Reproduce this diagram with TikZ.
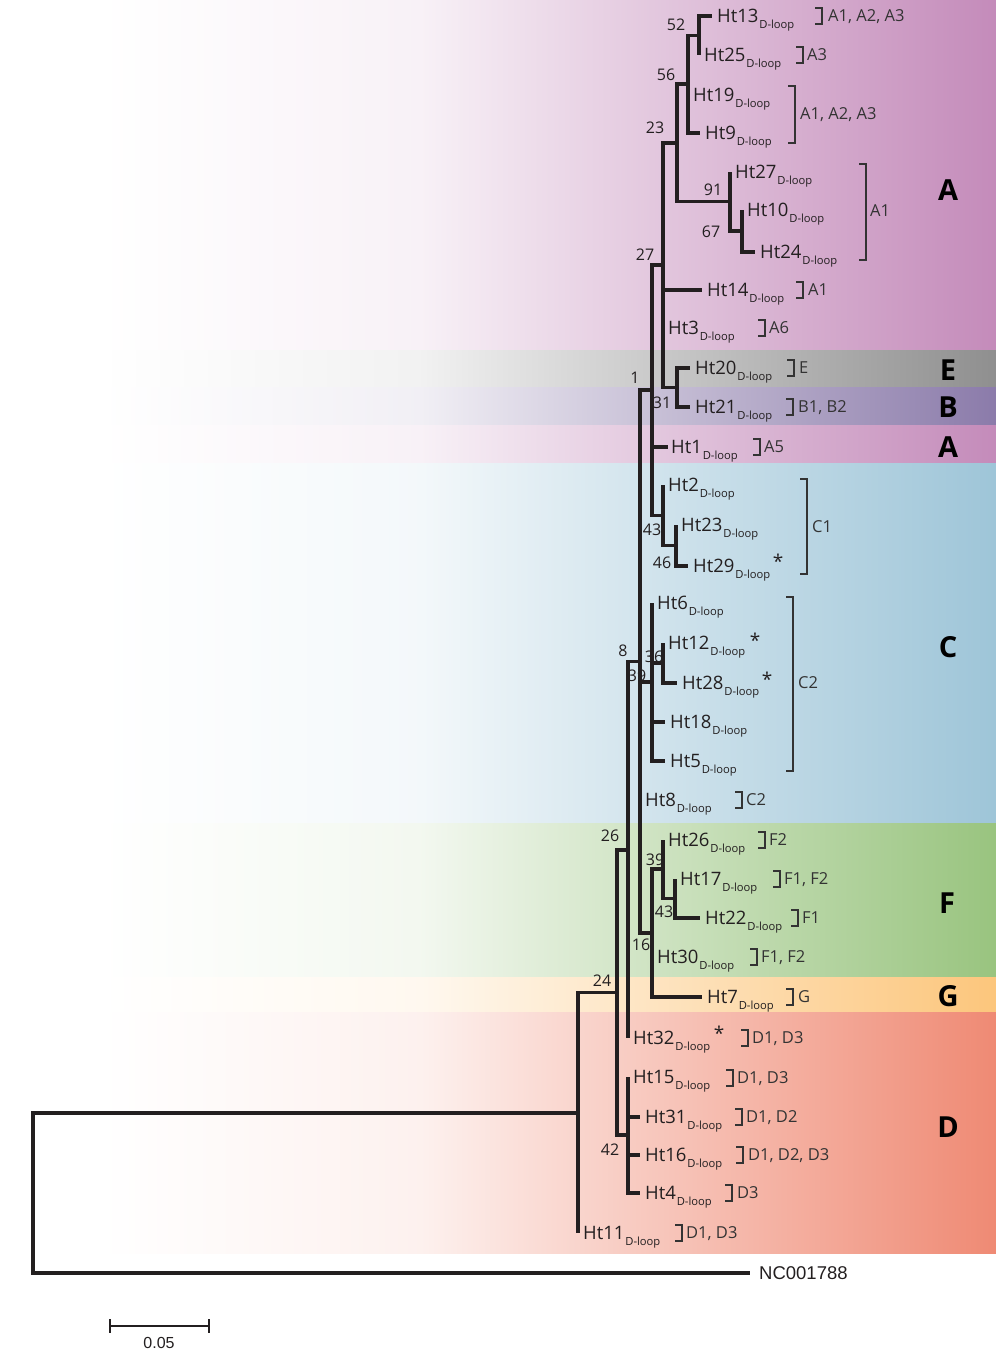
\documentclass[tikz,border=0pt]{standalone}
\usepackage{fontspec}
\setmainfont{Open Sans}
\newfontfamily\arialf{Liberation Sans}
\usetikzlibrary{calc}
\definecolor{cA}{HTML}{C48BBA}
\definecolor{cE}{HTML}{8F8F8F}
\definecolor{cB}{HTML}{8B7BAA}
\definecolor{cC}{HTML}{9EC5D8}
\definecolor{cF}{HTML}{99C47F}
\definecolor{cG}{HTML}{FCC67C}
\definecolor{cD}{HTML}{EF8A74}
\definecolor{ink}{HTML}{231F20}
\definecolor{ink2}{HTML}{333333}
\newcommand{\dl}{\kern0.8pt\raisebox{-5.5pt}{\fontsize{11.2}{10}\selectfont D-loop}}
\newcommand{\brk}[3]{\draw[brkline] (#1-7,#2) -- (#1,#2) -- (#1,#3) -- (#1-7,#3);}
\newcommand{\band}[3]{%
  \shade[left color=white, right color=#1!12!white] (100,#2) rectangle (420,#3);
  \shade[left color=#1!12!white, right color=#1] (420,#2) rectangle (996,#3);}
\begin{document}
\begin{tikzpicture}[x=1pt,y=-1pt,
  tree/.style={line width=3.6pt, draw=ink, line join=miter},
  leaf/.style={anchor=base west, inner sep=0pt, font=\fontsize{18.5}{18}\selectfont, text=ink, xshift=5pt, yshift=-6.5pt},
  grp/.style={anchor=base west, inner sep=0pt, font=\fontsize{16.5}{16}\selectfont, text=ink2, yshift=-5.8pt},
  boot/.style={anchor=center, inner sep=0pt, font=\fontsize{16}{16}\selectfont, text=ink},
  reg/.style={anchor=center, inner sep=0pt, font=\fontsize{29}{29}\selectfont\bfseries, text=black},
  ast/.style={anchor=base, inner sep=0pt, font=\fontsize{19}{19}\selectfont, text=ink, yshift=-10pt},
  brkline/.style={line width=1.4pt, draw=ink2}
]
\useasboundingbox (0,0) rectangle (996,1361);
\fill[white] (0,0) rectangle (996,1361);
% ---------- coloured bands ----------
\band{cA}{0}{350}
\band{cE}{350}{387}
\band{cB}{387}{425}
\band{cA}{425}{463}
\band{cC}{463}{823}
\band{cF}{823}{977}
\band{cG}{977}{1012}
\band{cD}{1012}{1253}
% ---------- leaves ----------
\coordinate (Ht13) at (712,16);
\coordinate (Ht25) at (699,55);
\coordinate (Ht19) at (688,95);
\coordinate (Ht9) at (700,133);
\coordinate (Ht27) at (730,172);
\coordinate (Ht10) at (742,210);
\coordinate (Ht24) at (755,252);
\coordinate (Ht14) at (702,290);
\coordinate (Ht3) at (663,328);
\coordinate (Ht20) at (690,368);
\coordinate (Ht21) at (690,407);
\coordinate (Ht1) at (668,447);
\coordinate (Ht2) at (663,485);
\coordinate (Ht23) at (676,525);
\coordinate (Ht29) at (688,566);
\coordinate (Ht6) at (652,603);
\coordinate (Ht12) at (663,643);
\coordinate (Ht28) at (677,683);
\coordinate (Ht18) at (665,722);
\coordinate (Ht5) at (665,761);
\coordinate (Ht8) at (640,800);
\coordinate (Ht26) at (663,840);
\coordinate (Ht17) at (675,879);
\coordinate (Ht22) at (700,918);
\coordinate (Ht30) at (652,957);
\coordinate (Ht7) at (702,997);
\coordinate (Ht32) at (628,1038);
\coordinate (Ht15) at (628,1077);
\coordinate (Ht31) at (640,1117);
\coordinate (Ht16) at (640,1155);
\coordinate (Ht4) at (640,1193);
\coordinate (Ht11) at (578,1233);
\coordinate (NC) at (750,1273);
% ---------- internal nodes ----------
\coordinate (n52) at (699,35.5);
\coordinate (n56) at (688,84);
\coordinate (n67) at (742,231);
\coordinate (n91) at (730,201.5);
\coordinate (n23) at (677,143);
\coordinate (n31) at (677,387.5);
\coordinate (n27) at (663,265);
\coordinate (n46) at (676,545.5);
\coordinate (n43c) at (663,515.5);
\coordinate (n1) at (652,390);
\coordinate (n36) at (663,663);
\coordinate (n39c) at (652,682);
\coordinate (n43f) at (675,898.5);
\coordinate (n39f) at (663,869);
\coordinate (n16) at (652,933);
\coordinate (n8) at (640,661.5);
\coordinate (n26) at (628,850);
\coordinate (n42) at (628,1135);
\coordinate (n24) at (617,992.5);
\coordinate (n0) at (578,1113);
\coordinate (root) at (33,1193);
% ---------- branches ----------
\draw[tree] (n52) |- (Ht13); \draw[tree] (n52) |- (Ht25);
\draw[tree] (n56) |- (n52); \draw[tree] (n56) |- (Ht19); \draw[tree] (n56) |- (Ht9);
\draw[tree] (n67) |- (Ht10); \draw[tree] (n67) |- (Ht24);
\draw[tree] (n91) |- (Ht27); \draw[tree] (n91) |- (n67);
\draw[tree] (n23) |- (n56); \draw[tree] (n23) |- (n91);
\draw[tree] (n31) |- (Ht20); \draw[tree] (n31) |- (Ht21);
\draw[tree] (n27) |- (n23); \draw[tree] (n27) |- (Ht14); \draw[tree] (n27) |- (Ht3); \draw[tree] (n27) |- (n31);
\draw[tree] (n46) |- (Ht23); \draw[tree] (n46) |- (Ht29);
\draw[tree] (n43c) |- (Ht2); \draw[tree] (n43c) |- (n46);
\draw[tree] (n1) |- (n27); \draw[tree] (n1) |- (Ht1); \draw[tree] (n1) |- (n43c);
\draw[tree] (n36) |- (Ht12); \draw[tree] (n36) |- (Ht28);
\draw[tree] (n39c) |- (Ht6); \draw[tree] (n39c) |- (n36); \draw[tree] (n39c) |- (Ht18); \draw[tree] (n39c) |- (Ht5);
\draw[tree] (n43f) |- (Ht17); \draw[tree] (n43f) |- (Ht22);
\draw[tree] (n39f) |- (Ht26); \draw[tree] (n39f) |- (n43f);
\draw[tree] (n16) |- (n39f); \draw[tree] (n16) |- (Ht30); \draw[tree] (n16) |- (Ht7);
\draw[tree] (n8) |- (n1); \draw[tree] (n8) |- (n39c); \draw[tree] (n8) |- (Ht8); \draw[tree] (n8) |- (n16);
\draw[tree] (n26) |- (n8); \draw[tree] (n26) |- (Ht32);
\draw[tree] (n42) |- (Ht15); \draw[tree] (n42) |- (Ht31); \draw[tree] (n42) |- (Ht16); \draw[tree] (n42) |- (Ht4);
\draw[tree] (n24) |- (n26); \draw[tree] (n24) |- (n42);
\draw[tree] (n0) |- (n24); \draw[tree] (n0) |- (Ht11);
\draw[tree] (root) |- (n0); \draw[tree] (root) |- (NC);
% ---------- leaf labels ----------
\node[leaf] (tHt13) at (Ht13) {Ht13\dl};
\node[leaf] (tHt25) at (Ht25) {Ht25\dl};
\node[leaf] (tHt19) at (Ht19) {Ht19\dl};
\node[leaf] (tHt9) at (Ht9) {Ht9\dl};
\node[leaf] (tHt27) at (Ht27) {Ht27\dl};
\node[leaf] (tHt10) at (Ht10) {Ht10\dl};
\node[leaf] (tHt24) at (Ht24) {Ht24\dl};
\node[leaf] (tHt14) at (Ht14) {Ht14\dl};
\node[leaf] (tHt3) at (Ht3) {Ht3\dl};
\node[leaf] (tHt20) at (Ht20) {Ht20\dl};
\node[leaf] (tHt21) at (Ht21) {Ht21\dl};
\node[leaf, xshift=-2pt] (tHt1) at (Ht1) {Ht1\dl};
\node[leaf] (tHt2) at (Ht2) {Ht2\dl};
\node[leaf] (tHt23) at (Ht23) {Ht23\dl};
\node[leaf] (tHt29) at (Ht29) {Ht29\dl};
\node[leaf] (tHt6) at (Ht6) {Ht6\dl};
\node[leaf] (tHt12) at (Ht12) {Ht12\dl};
\node[leaf] (tHt28) at (Ht28) {Ht28\dl};
\node[leaf] (tHt18) at (Ht18) {Ht18\dl};
\node[leaf] (tHt5) at (Ht5) {Ht5\dl};
\node[leaf] (tHt8) at (Ht8) {Ht8\dl};
\node[leaf] (tHt26) at (Ht26) {Ht26\dl};
\node[leaf] (tHt17) at (Ht17) {Ht17\dl};
\node[leaf] (tHt22) at (Ht22) {Ht22\dl};
\node[leaf] (tHt30) at (Ht30) {Ht30\dl};
\node[leaf] (tHt7) at (Ht7) {Ht7\dl};
\node[leaf] (tHt32) at (Ht32) {Ht32\dl};
\node[leaf] (tHt15) at (Ht15) {Ht15\dl};
\node[leaf] (tHt31) at (Ht31) {Ht31\dl};
\node[leaf] (tHt16) at (Ht16) {Ht16\dl};
\node[leaf] (tHt4) at (Ht4) {Ht4\dl};
\node[leaf] (tHt11) at (Ht11) {Ht11\dl};
\node[leaf, font=\arialf\fontsize{18.5}{18}\selectfont, xshift=4pt] (tNC) at (NC) {NC001788};
% ---------- asterisks ----------
\node[ast] (s29) at (778,558) {*};
\node[ast] (s12) at (755,637) {*};
\node[ast] (s28) at (767,676) {*};
\node[ast] (s32) at (719,1030) {*};
% ---------- bootstrap values ----------
\node[boot] (b52) at (676,25) {52};
\node[boot] (b56) at (666,75) {56};
\node[boot] (b23) at (655,128) {23};
\node[boot] (b91) at (713,190) {91};
\node[boot] (b67) at (711,232) {67};
\node[boot] (b27) at (645,255) {27};
\node[boot] (b1) at (635,378) {1};
\node[boot] (b31) at (662,403) {31};
\node[boot] (b43c) at (652,530) {43};
\node[boot] (b46) at (662,563) {46};
\node[boot] (b8) at (623,651) {8};
\node[boot] (b36) at (654,657) {36};
\node[boot] (b39c) at (637,676) {39};
\node[boot] (b26) at (610,836) {26};
\node[boot] (b39f) at (655,860) {39};
\node[boot] (b43f) at (664,912) {43};
\node[boot] (b16) at (641,945) {16};
\node[boot] (b24) at (602,981) {24};
\node[boot] (b42) at (610,1150) {42};
% ---------- brackets and group labels ----------
\brk{822}{8}{24} \node[grp] (g13) at (828,16) {A1, A2, A3};
\brk{803}{47}{63} \node[grp] (g25) at (807,55) {A3};
\brk{795}{86}{143} \node[grp] (g19) at (800,114) {A1, A2, A3};
\brk{866}{164}{260} \node[grp] (g27) at (870,211) {A1};
\brk{803}{282}{298} \node[grp] (g14) at (808,290) {A1};
\brk{765}{320}{336} \node[grp] (g3) at (769,328) {A6};
\brk{794}{360}{376} \node[grp] (g20) at (799,368) {E};
\brk{793}{399}{415} \node[grp] (g21) at (798,407) {B1, B2};
\brk{760}{439}{455} \node[grp] (g1) at (764,447) {A5};
\brk{807}{479}{574} \node[grp] (gC1) at (812,527) {C1};
\brk{793}{597}{771} \node[grp] (gC2) at (798,683) {C2};
\brk{742}{792}{808} \node[grp] (g8) at (746,800) {C2};
\brk{765}{832}{848} \node[grp] (g26) at (769,840) {F2};
\brk{780}{871}{887} \node[grp] (g17) at (784,879) {F1, F2};
\brk{798}{910}{926} \node[grp] (g22) at (802,918) {F1};
\brk{757}{949}{965} \node[grp] (g30) at (761,957) {F1, F2};
\brk{793}{989}{1005} \node[grp] (g7) at (798,997) {G};
\brk{748}{1030}{1046} \node[grp] (g32) at (752,1038) {D1, D3};
\brk{733}{1070}{1086} \node[grp] (g15) at (737,1078) {D1, D3};
\brk{742}{1109}{1125} \node[grp] (g31) at (746,1117) {D1, D2};
\brk{743}{1147}{1163} \node[grp] (g16) at (748,1155) {D1, D2, D3};
\brk{732}{1185}{1201} \node[grp] (g4) at (737,1193) {D3};
\brk{682}{1225}{1241} \node[grp] (g11) at (686,1233) {D1, D3};
% ---------- clade letters ----------
\node[reg] (rA1) at (948,190) {A};
\node[reg] (rE) at (948,370) {E};
\node[reg] (rB) at (948,407) {B};
\node[reg] (rA2) at (948,447) {A};
\node[reg] (rC) at (948,647) {C};
\node[reg] (rF) at (947,903) {F};
\node[reg] (rG) at (948,996) {G};
\node[reg] (rD) at (948,1127) {D};
% ---------- scale bar ----------
\coordinate (sb1) at (110,1326);
\coordinate (sb2) at (209,1326);
\draw[line width=2.2pt, draw=ink] (sb1) -- (sb2);
\draw[line width=2.2pt, draw=ink] ($(sb1)+(0,-7)$) -- ($(sb1)+(0,7)$);
\draw[line width=2.2pt, draw=ink] ($(sb2)+(0,-7)$) -- ($(sb2)+(0,7)$);
\node[anchor=center, inner sep=0pt, font=\arialf\fontsize{16}{16}\selectfont, text=ink] (sbl) at (159,1343) {0.05};
\end{tikzpicture}
\end{document}
